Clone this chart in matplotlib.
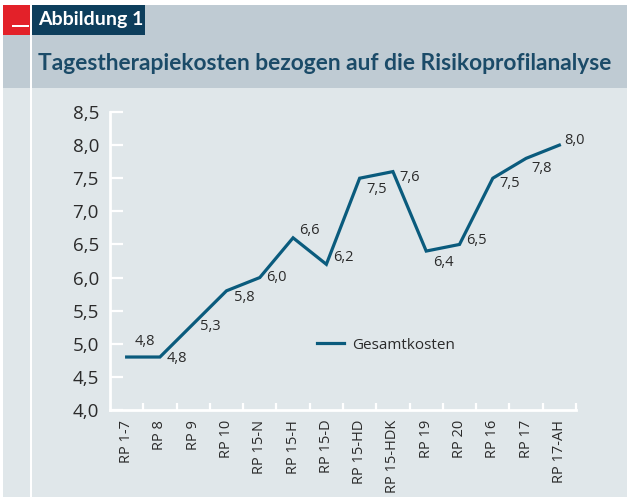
import matplotlib
matplotlib.use('Agg')
import matplotlib.pyplot as plt
from matplotlib.patches import Rectangle
from matplotlib.ticker import FuncFormatter, FixedLocator

# Data
categories = ['RP 1-7', 'RP 8', 'RP 9', 'RP 10', 'RP 15-N', 'RP 15-H', 'RP 15-D',
              'RP 15-HD', 'RP 15-HDK', 'RP 19', 'RP 20', 'RP 16', 'RP 17', 'RP 17-AH']
gesamtkosten = [4.8, 4.8, 5.3, 5.8, 6.0, 6.6, 6.2, 7.5, 7.6, 6.4, 6.5, 7.5, 7.8, 8.0]
y_ticks = [4.0, 4.5, 5.0, 5.5, 6.0, 6.5, 7.0, 7.5, 8.0, 8.5]

# label offsets in points (dx, dy), picked by eye
label_offsets = [(13, 11), (12, -1), (12, -2), (13, -5), (12, 0), (12, 5), (12, 5),
                 (12, -8), (12, -4), (12, -8), (12, 3), (12, -4), (11, -7), (11, 3)]

W, H = 627, 497
LINE_COL = '#0a5b7d'
BG = '#e0e7ea'
HEAD = '#bfcbd3'
DARK = '#0d3e5c'
TITLE_COL = '#1b4b68'
TXT = '#2b2b2b'

plt.rcParams['font.family'] = ['Open Sans', 'DejaVu Sans']

fig = plt.figure(figsize=(W / 100, H / 100), dpi=100)
fig.patch.set_facecolor('white')


def px_rect(x0, y0, x1, y1, color):
    # rectangle given in pixel coords (top-left origin)
    fig.add_artist(Rectangle((x0 / W, 1 - y1 / H), (x1 - x0) / W, (y1 - y0) / H,
                             transform=fig.transFigure, facecolor=color,
                             edgecolor='none', zorder=0))


px_rect(3, 5, W, H, BG)
px_rect(3, 5, W, 88, HEAD)
px_rect(3, 5, 30, 35, '#e32129')
px_rect(12, 25, 29, 27, 'white')
px_rect(32, 5, 145, 35, DARK)
px_rect(30, 5, 32, H, 'white')

fig.text(38 / W, 1 - 20 / H, 'Abbildung 1', color='white', fontsize=14,
         fontweight='bold', va='center', ha='left', family=['Lato', 'DejaVu Sans'])
fig.text(38 / W, 1 - 63 / H, 'Tagestherapiekosten bezogen auf die Risikoprofilanalyse',
         color=TITLE_COL, fontsize=16.4, fontweight='bold', va='center', ha='left',
         family=['Lato', 'DejaVu Sans'])

ax = fig.add_axes([110 / W, (H - 410) / H, 466 / W, 298 / H])
ax.set_facecolor('none')

x = list(range(len(categories)))
ax.plot(x, gesamtkosten, color=LINE_COL, lw=2.3, solid_joinstyle='miter',
        label='Gesamtkosten')

for i, v in enumerate(gesamtkosten):
    dx, dy = label_offsets[i]
    ax.annotate(f'{v:.1f}'.replace('.', ','), (i, v), xytext=(dx, dy),
                textcoords='offset points', ha='center', va='center',
                fontsize=10.5, color=TXT)

ax.set_xlim(-0.5, len(categories) - 0.5)
ax.set_ylim(4.0, 8.5)

ax.set_yticks(y_ticks)
ax.yaxis.set_major_formatter(FuncFormatter(lambda v, p: f'{v:.1f}'.replace('.', ',')))
ax.tick_params(axis='y', direction='in', length=9, width=1.6, color='white',
               labelsize=13.5, labelcolor=TXT, pad=8)

ax.set_xticks(x)
ax.set_xticklabels(categories, rotation=90, fontsize=10.5, color=TXT)
ax.xaxis.set_minor_locator(FixedLocator([i + 0.5 for i in x]))
ax.tick_params(axis='x', which='major', length=0, pad=7)
ax.tick_params(axis='x', which='minor', direction='in', length=5, width=1.6, color='white')

for s in ['top', 'right']:
    ax.spines[s].set_visible(False)
for s in ['left', 'bottom']:
    ax.spines[s].set_color('white')
    ax.spines[s].set_linewidth(2)

leg = ax.legend(loc='center left', bbox_to_anchor=(0.444, 0.218), frameon=False,
                fontsize=11, handlelength=1.8, handletextpad=0.5,
                borderpad=0, borderaxespad=0)
for t in leg.get_texts():
    t.set_color(TXT)

fig.savefig('out.png', dpi=100, facecolor=fig.get_facecolor())
